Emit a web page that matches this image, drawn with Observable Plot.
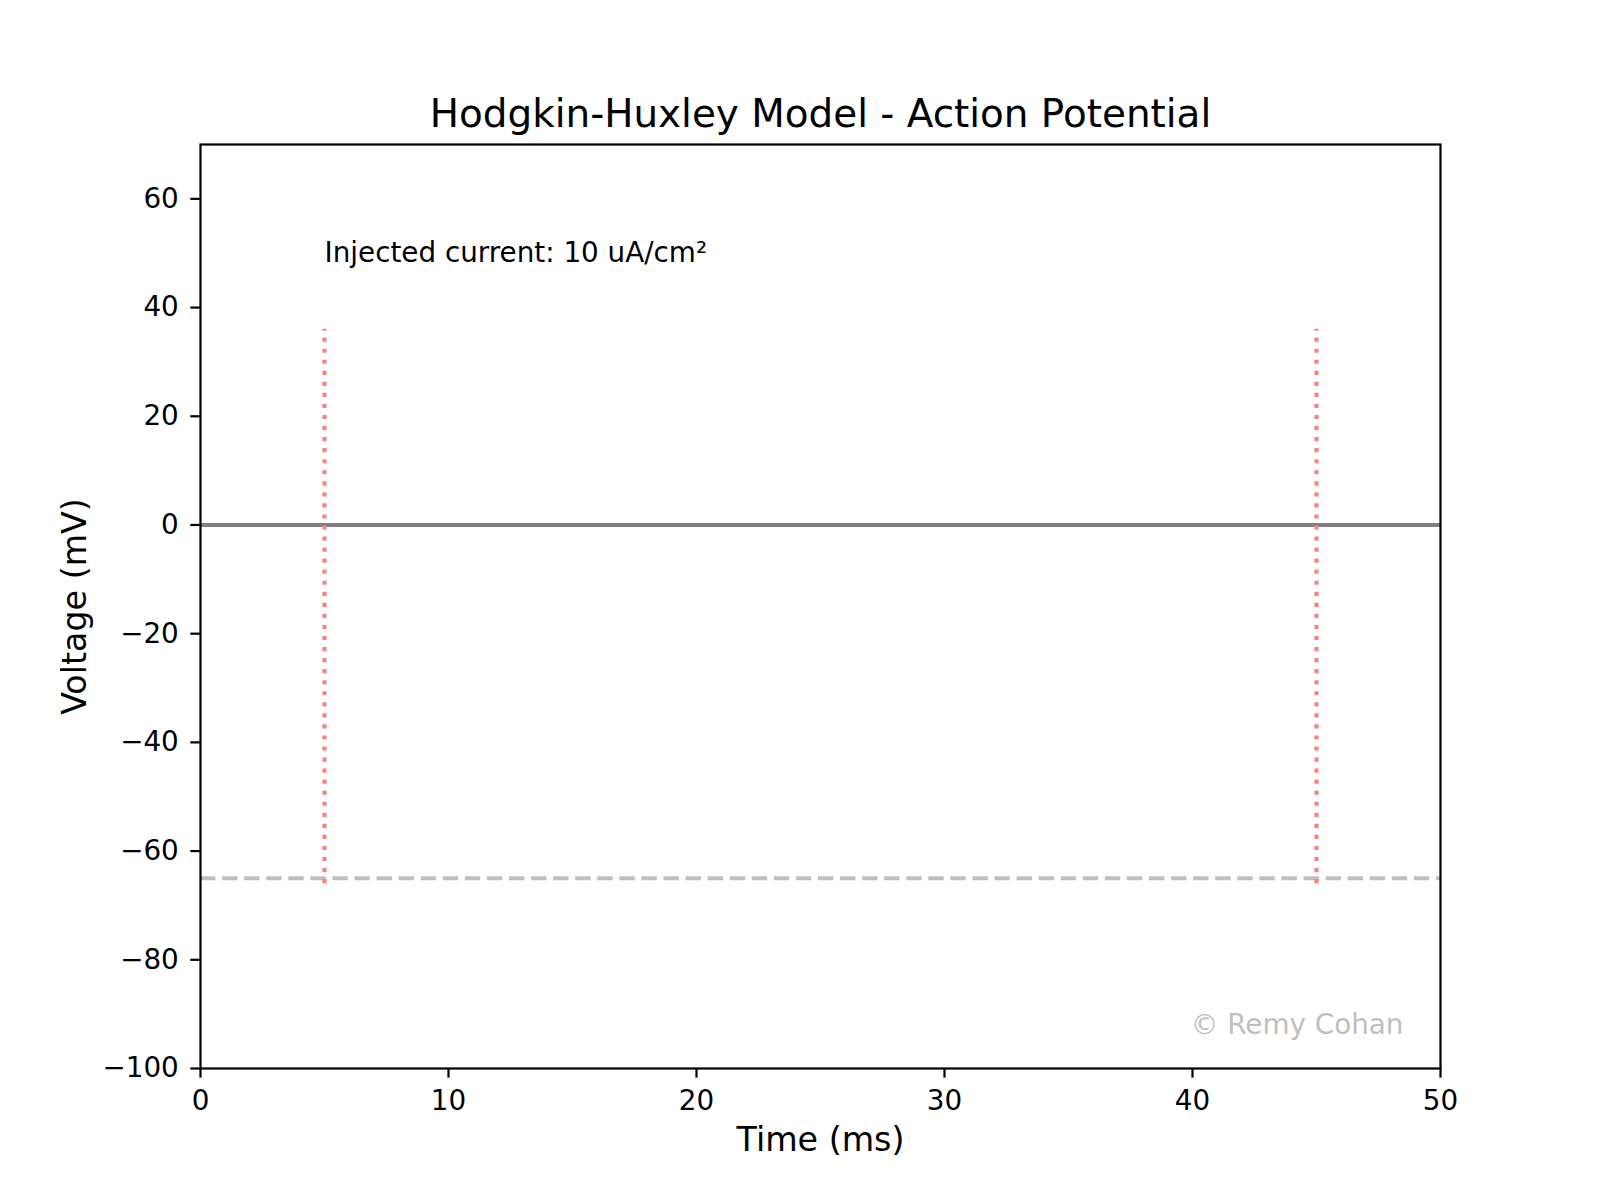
<!DOCTYPE html>
<html>
<head>
<meta charset="utf-8">
<script src="https://cdn.jsdelivr.net/npm/d3@7"></script>
<script src="https://cdn.jsdelivr.net/npm/@observablehq/plot@0.6"></script>
<style>
  html, body { margin: 0; padding: 0; background: #fff; }
  #chart { width: 1600px; height: 1200px; }
</style>
</head>
<body>
<div id="chart"></div>
<script>
// ---- data ----
const timeDomain = [0, 50];            // ms
const voltageDomain = [-100, 70];      // mV
const xTicks = [0, 10, 20, 30, 40, 50];
const yTicks = [-100, -80, -60, -40, -20, 0, 20, 40, 60];
const stimulusTimes = [5, 45];         // ms, stimulus on / off markers
const stimulusLow = [-66, -66];        // mV, lower end of markers
const stimulusHigh = [36, 36];         // mV, upper end of markers
const zeroLevel = [0];                 // mV
const restingPotential = [-65];        // mV
const annotationText = ["Injected current: 10 uA/cm²"];
const annotationX = [5];
const annotationY = [48.4];
const titleText = "Hodgkin-Huxley Model - Action Potential";
const xLabel = "Time (ms)";
const yLabel = "Voltage (mV)";
const creditText = "© Remy Cohan";

const stimulus = stimulusTimes.map((t, i) => ({t, lo: stimulusLow[i], hi: stimulusHigh[i]}));
const annotation = annotationText.map((s, i) => ({s, x: annotationX[i], y: annotationY[i]}));

const fmt = d => d < 0 ? "\u2212" + Math.abs(d) : String(d);
const FONT = "DejaVu Sans";
const lw = 4.17;

const chart = Plot.plot({
  width: 1600,
  height: 1200,
  marginTop: 144,
  marginRight: 160,
  marginBottom: 132,
  marginLeft: 200,
  style: {fontFamily: FONT, background: "#fff", color: "#000"},
  x: {domain: timeDomain, axis: null},
  y: {domain: voltageDomain, axis: null},
  marks: [
    Plot.ruleY(zeroLevel, {y: d => d, stroke: "#808080", strokeWidth: lw}),
    Plot.ruleY(restingPotential, {y: d => d, stroke: "#bfbfbf", strokeWidth: lw, strokeDasharray: "15.4,6.67"}),
    Plot.ruleX(stimulus, {x: "t", y1: "lo", y2: "hi", stroke: "#ff7f7f", strokeWidth: lw, strokeDasharray: "4.17,6.88"}),
    Plot.text(annotation, {x: "x", y: "y", text: "s", textAnchor: "start", lineAnchor: "bottom", fontSize: 27.8, fill: "#000"}),
    Plot.axisX({ticks: xTicks, tickFormat: fmt, tickSize: 9.7, tickPadding: 12, strokeWidth: 2.2, fontSize: 27.8, label: null, stroke: "#000", fill: "#000"}),
    Plot.axisY({ticks: yTicks, tickFormat: fmt, tickSize: 9.7, tickPadding: 12, strokeWidth: 2.2, fontSize: 27.8, label: null, stroke: "#000", fill: "#000"}),
    Plot.text([titleText], {frameAnchor: "top", text: d => d, lineAnchor: "bottom", dy: -18, fontSize: 38.9, fill: "#000"}),
    Plot.text([xLabel], {frameAnchor: "bottom", text: d => d, lineAnchor: "bottom", dy: 82, fontSize: 33.3, fill: "#000"}),
    Plot.text([yLabel], {frameAnchor: "left", text: d => d, rotate: -90, textAnchor: "middle", lineAnchor: "bottom", dx: -115, fontSize: 33.3, fill: "#000"}),
    Plot.text([creditText], {frameAnchor: "bottom-right", text: d => d, textAnchor: "end", lineAnchor: "bottom", dx: -37, dy: -35, fontSize: 27.8, fill: "#bfbfbf"}),
    Plot.frame({stroke: "#000", strokeWidth: 2.2})
  ]
});
document.getElementById("chart").appendChild(chart);
</script>
</body>
</html>
